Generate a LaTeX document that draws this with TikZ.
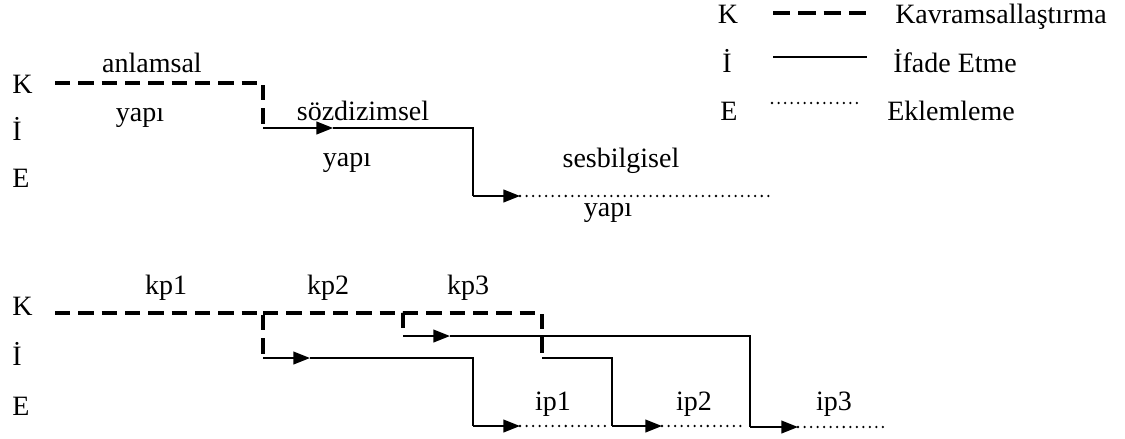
\documentclass[tikz,border=0pt]{standalone}
\usepackage{fontspec}
\setmainfont{Liberation Serif}
\usetikzlibrary{arrows.meta}
\tikzset{
x=0.75pt, y=-0.75pt, % one unit is one pixel of the drawing
>={Triangle[length=12.5pt,width=9.5pt]}, % filled arrow heads
kavram/.style={line width=2.6pt, dash pattern=on 11.5pt off 6pt}, % K line
ifade/.style={line width=1.5pt}, % I line
eklem/.style={line width=1.9pt, line cap=round, dash pattern=on 0pt off 4.9pt}, % E line
yazi/.style={font=\fontsize{21}{25}\selectfont, inner sep=0pt, anchor=base}, % every text
harf/.style={yazi, anchor=base west}, % row letters
}

\begin{document}
\begin{tikzpicture}
\useasboundingbox (0,0) rectangle (1125,439);

% legend
\node[yazi] (lk) at (728,23) {K};
\node[yazi] (li) at (727,72) {İ};
\node[yazi] (le) at (729,120) {E};
\node[harf] (lkt) at (895,23) {Kavramsallaştırma};
\node[harf] (lit) at (893,72) {İfade Etme};
\node[harf] (let) at (887,120) {Eklemleme};
\coordinate (lk0) at (773,13);  \coordinate (lk1) at (867,13);
\coordinate (li0) at (773,57);  \coordinate (li1) at (867,57);
\coordinate (le0) at (772,103); \coordinate (le1) at (862,103);
\draw[kavram, dash pattern=on 13pt off 6pt] (lk0) -- (lk1);
\draw[ifade] (li0) -- (li1);
\draw[eklem] (le0) -- (le1);

% upper drawing
\node[harf] (k1) at (12,93) {K};
\node[harf] (i1) at (12,140) {İ};
\node[harf] (e1) at (12,187) {E};
\node[yazi] (anl) at (152,72) {anlamsal};
\node[yazi] (yap1) at (140,121) {yapı};
\node[yazi] (soz) at (363,120) {sözdizimsel};
\node[yazi] (yap2) at (347,166) {yapı};
\node[yazi] (ses) at (621,167) {sesbilgisel};
\node[yazi] (yap3) at (608,216) {yapı};
\coordinate (a0) at (55,83);
\coordinate (a1) at (263,83);
\coordinate (a2) at (263,128);
\coordinate (a3) at (333,128);
\coordinate (a4) at (473,128);
\coordinate (a5) at (473,196);
\coordinate (a6) at (520,196);
\coordinate (a7) at (770,196);
\draw[kavram] (a0) -- (a1) -- (a2);
\draw[ifade,->] (a2) -- (a3);
\draw[ifade] (a3) -- (a4) -- (a5);
\draw[ifade,->] (a5) -- (a6);
\draw[eklem] (a6) -- (a7);

% lower drawing
\node[harf] (k2) at (12,315) {K};
\node[harf] (i2) at (12,365) {İ};
\node[harf] (e2) at (12,415) {E};
\node[yazi] (kp1) at (166,294) {kp1};
\node[yazi] (kp2) at (328,294) {kp2};
\node[yazi] (kp3) at (468,294) {kp3};
\node[yazi] (ip1) at (553,410) {ip1};
\node[yazi] (ip2) at (694,410) {ip2};
\node[yazi] (ip3) at (834,410) {ip3};
\coordinate (b0) at (55,313);
\coordinate (b1) at (263,313);
\coordinate (b2) at (403,313);
\coordinate (b3) at (542,313);
\coordinate (c1) at (263,358);
\coordinate (c2) at (310,358);
\coordinate (c3) at (473,358);
\coordinate (c4) at (473,426);
\coordinate (c5) at (520,426);
\coordinate (c6) at (607,426);
\coordinate (d1) at (403,336);
\coordinate (d2) at (450,336);
\coordinate (d3) at (750,336);
\coordinate (d4) at (750,427);
\coordinate (d5) at (798,427);
\coordinate (d6) at (883,427);
\coordinate (f1) at (542,358);
\coordinate (f2) at (612,358);
\coordinate (f3) at (612,426);
\coordinate (f4) at (662,426);
\coordinate (f5) at (745,426);
\draw[kavram] (b0) -- (b1) -- (c1);
\draw[kavram] (b1) -- (b2) -- (d1);
\draw[kavram] (b2) -- (b3) -- (f1);
% first step
\draw[ifade,->] (c1) -- (c2);
\draw[ifade] (c2) -- (c3) -- (c4);
\draw[ifade,->] (c4) -- (c5);
\draw[eklem] (c5) -- (c6);
% second step
\draw[ifade] (f1) -- (f2) -- (f3);
\draw[ifade,->] (f3) -- (f4);
\draw[eklem] (f4) -- (f5);
% third step
\draw[ifade,->] (d1) -- (d2);
\draw[ifade] (d2) -- (d3) -- (d4);
\draw[ifade,->] (d4) -- (d5);
\draw[eklem] (d5) -- (d6);
\end{tikzpicture}
\end{document}
